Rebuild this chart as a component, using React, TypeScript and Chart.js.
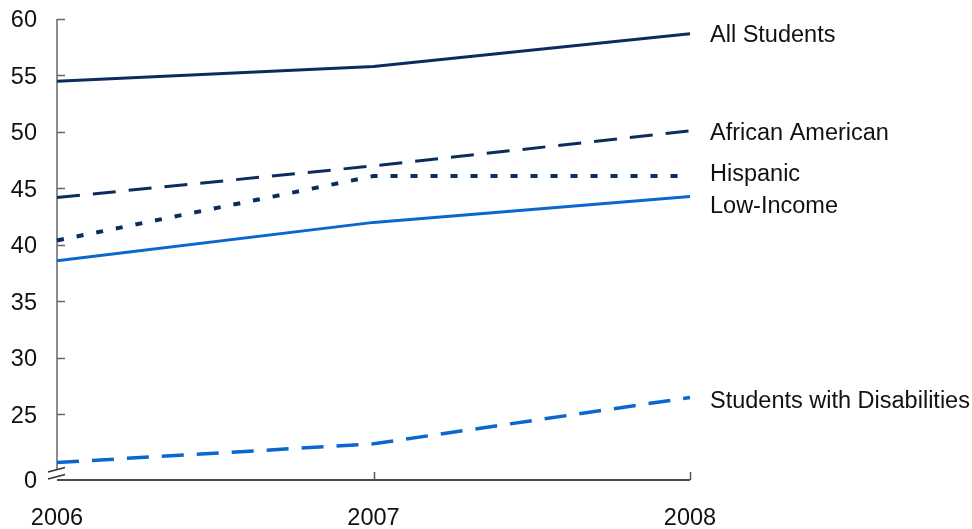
import React, { useEffect, useRef } from "react";
import { Chart, registerables } from "chart.js";

Chart.register(...registerables);

// Category labels and series
const years = ["2006", "2007", "2008"];
const allStudents = [54.5, 55.8, 58.7];
const africanAmerican = [44.2, 47.0, 50.1];
const hispanic = [40.4, 46.1, 46.1];
const lowIncome = [38.6, 42.0, 44.3];
const disabilities = [20.75, 22.4, 26.5];

// Y axis: broken scale, bottom of the axis stands for 0
const yMin = 19.2;
const yMax = 60;
const yTickValues = [25, 30, 35, 40, 45, 50, 55, 60];
const breakLabel = "0";

// End-of-line series names and small vertical nudges to keep them apart
const seriesNames = ["All Students", "African American", "Hispanic", "Low-Income", "Students with Disabilities"];
const labelNudge = [2, 3, -2, 10, 4];

const NAVY = "#0b2d5e";
const BLUE = "#0a68cc";
const FONT = "'Liberation Sans', Arial, Helvetica, sans-serif";
const FONT_SIZE = 23.5;

export default function App() {
  const canvasRef = useRef<HTMLCanvasElement | null>(null);

  useEffect(() => {
    const canvas = canvasRef.current;
    if (!canvas) return;

    const axesPlugin = {
      id: "customAxes",
      beforeDatasetsDraw(chart: any) {
        const { ctx, chartArea, scales } = chart;
        const x = scales.x;
        const y = scales.y;
        const left = chartArea.left;
        const bottom = chartArea.bottom;
        ctx.save();
        // y axis line, stopping at the break
        ctx.strokeStyle = "#666";
        ctx.lineWidth = 1.5;
        ctx.beginPath();
        ctx.moveTo(left, y.getPixelForValue(yMax));
        ctx.lineTo(left, bottom - 10);
        ctx.stroke();
        // inward y ticks
        for (const v of yTickValues) {
          const py = Math.round(y.getPixelForValue(v)) + 0.5;
          ctx.beginPath();
          ctx.moveTo(left, py);
          ctx.lineTo(left + 8, py);
          ctx.stroke();
        }
        // break marks
        ctx.strokeStyle = "#333";
        ctx.lineWidth = 1.3;
        ctx.beginPath();
        ctx.moveTo(left - 9, bottom - 8);
        ctx.lineTo(left + 8, bottom - 12.5);
        ctx.moveTo(left - 9, bottom - 1);
        ctx.lineTo(left + 8, bottom - 5.5);
        ctx.stroke();
        // x axis line
        ctx.strokeStyle = "#111";
        ctx.lineWidth = 1.5;
        const xr = x.getPixelForValue(years.length - 1);
        ctx.beginPath();
        ctx.moveTo(left, bottom);
        ctx.lineTo(xr, bottom);
        ctx.stroke();
        // inward x ticks
        ctx.strokeStyle = "#555";
        for (let i = 1; i < years.length; i++) {
          const px = Math.round(x.getPixelForValue(i)) + 0.5;
          ctx.beginPath();
          ctx.moveTo(px, bottom);
          ctx.lineTo(px, bottom - 8);
          ctx.stroke();
        }
        ctx.restore();
      },
      afterDatasetsDraw(chart: any) {
        const { ctx, scales } = chart;
        const x = scales.x;
        const y = scales.y;
        const last = years.length - 1;
        ctx.save();
        ctx.fillStyle = "#111";
        ctx.font = `${FONT_SIZE}px ${FONT}`;
        ctx.textAlign = "left";
        ctx.textBaseline = "middle";
        chart.data.datasets.forEach((ds: any, i: number) => {
          const px = x.getPixelForValue(last) + 20;
          const py = y.getPixelForValue(ds.data[last]) + labelNudge[i];
          ctx.fillText(seriesNames[i], px, py);
        });
        ctx.restore();
      },
    };

    const chart = new Chart(canvas, {
      type: "line",
      data: {
        labels: years,
        datasets: [
          { label: seriesNames[0], data: allStudents, borderColor: NAVY, borderWidth: 3 },
          { label: seriesNames[1], data: africanAmerican, borderColor: NAVY, borderWidth: 3, borderDash: [23, 13] },
          { label: seriesNames[2], data: hispanic, borderColor: NAVY, borderWidth: 4, borderDash: [7, 13] },
          { label: seriesNames[3], data: lowIncome, borderColor: BLUE, borderWidth: 3 },
          { label: seriesNames[4], data: disabilities, borderColor: BLUE, borderWidth: 3.5, borderDash: [22, 13] },
        ].map((d) => ({ ...d, pointRadius: 0, fill: false, tension: 0, borderCapStyle: "butt" as const })),
      },
      options: {
        responsive: false,
        animation: false,
        layout: { padding: { top: 19, right: 282, left: 0, bottom: 0 } },
        plugins: {
          legend: { display: false },
          tooltip: { enabled: false },
          title: { display: false },
        },
        scales: {
          x: {
            type: "category",
            offset: false,
            grid: { display: false, drawTicks: false },
            border: { display: false },
            ticks: { color: "#111", font: { family: FONT, size: FONT_SIZE }, padding: 24, maxRotation: 0 },
            afterFit: (s: any) => {
              s.height = 49;
              s.paddingLeft = 0;
              s.paddingRight = 0;
            },
          },
          y: {
            type: "linear",
            min: yMin,
            max: yMax,
            grid: { display: false, drawTicks: false },
            border: { display: false },
            afterBuildTicks: (s: any) => {
              s.ticks = [yMin, ...yTickValues].map((v) => ({ value: v }));
            },
            afterFit: (s: any) => {
              s.width = 57;
              s.paddingTop = 0;
              s.paddingBottom = 0;
            },
            ticks: {
              color: "#111",
              font: { family: FONT, size: FONT_SIZE },
              padding: 20,
              labelOffset: 2,
              callback: (v: any) => (v === yMin ? breakLabel : String(v)),
            },
          },
        },
      },
      plugins: [axesPlugin],
    });

    return () => chart.destroy();
  }, []);

  return (
    <div style={{ position: "fixed", left: 0, top: 0, width: 972, height: 529, background: "#fff" }}>
      <canvas ref={canvasRef} width={972} height={529} style={{ width: 972, height: 529 }} />
    </div>
  );
}
